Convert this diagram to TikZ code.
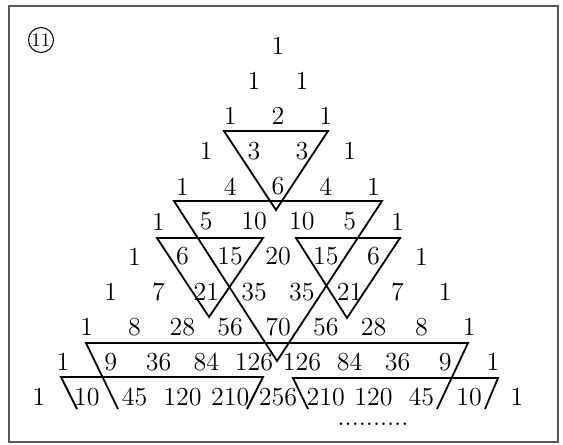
\documentclass[tikz,border=0pt]{standalone}
\usepackage{amsmath}
\usepackage{tikz}
\usetikzlibrary{calc}

\begin{document}
\begin{tikzpicture}[x=0.5pt,y=-0.5pt,
		num/.style={font=\fontsize{13}{15}\selectfont, inner sep=0pt},
		tri/.style={line width=0.9pt, line join=miter}]
	\useasboundingbox (0,0) rectangle (563,445);
	\draw [line width=0.8pt, black!65] (9,6) rectangle (558,442);
	\node [circle, draw, line width=0.5pt, inner sep=0pt, minimum size=12.5pt, font=\fontsize{9.5}{11}\selectfont] (mark) at (41,40) {11};

	\foreach \row [count=\nr from 0] in {{1},{1,1},{1,2,1},{1,3,3,1},{1,4,6,4,1},{1,5,10,10,5,1},
			{1,6,15,20,15,6,1},{1,7,21,35,35,21,7,1},{1,8,28,56,70,56,28,8,1},
			{1,9,36,84,126,126,84,36,9,1},{1,10,45,120,210,256,210,120,45,10,1}}
		\foreach \v [count=\nk from 0] in \row
			\node [num] (n-\nr-\nk) at ({278+(\nk-\nr/2)*47.8},{46+35.1*\nr}) {\v};

	\draw [tri] (224,131) -- (328,131) -- (276,210) -- cycle;
	\draw [tri] (174,201) -- (382,201) -- (277,361) -- cycle;
	\draw [tri] (157,238) -- (263,238) -- (209,317) -- cycle;
	\draw [tri] (296,238) -- (400,238) -- (347,318) -- cycle;

	\draw [tri] (118,409) -- (86,343) -- (468,343) -- (437,409);
	\draw [tri] (77,409) -- (61,377) -- (263,377) -- (247,409);
	\draw [tri] (308,409) -- (293,378) -- (498,378) -- (485,409);

	\node [num] (dots) at (373,424) {..........};
\end{tikzpicture}
\end{document}
